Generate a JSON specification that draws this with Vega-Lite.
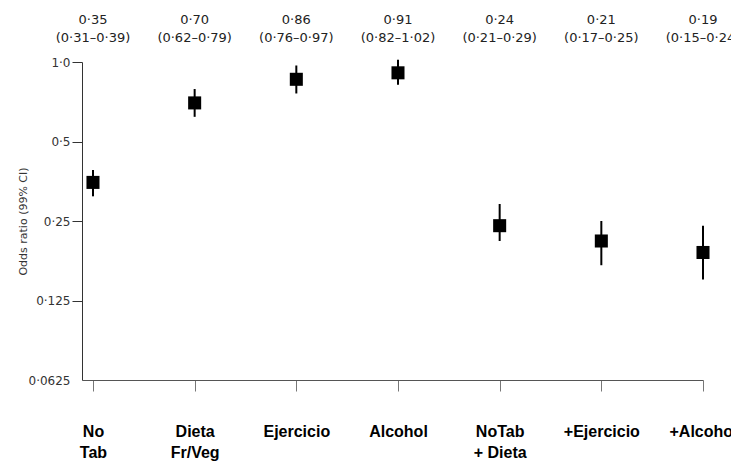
{
  "$schema": "https://vega.github.io/schema/vega-lite/v6.json",
  "width": 621,
  "height": 318,
  "autosize": {"type": "none"},
  "padding": {"left": 82, "top": 62, "right": 28, "bottom": 87},
  "background": "white",
  "config": {"view": {"stroke": null}},
  "data": {
    "values": [
      {"pos": 0, "group": "No Tab", "or": 0.35, "lo": 0.31, "hi": 0.39, "orText": "0·35", "ciText": "(0·31–0·39)"},
      {"pos": 1, "group": "Dieta Fr/Veg", "or": 0.70, "lo": 0.62, "hi": 0.79, "orText": "0·70", "ciText": "(0·62–0·79)"},
      {"pos": 2, "group": "Ejercicio", "or": 0.86, "lo": 0.76, "hi": 0.97, "orText": "0·86", "ciText": "(0·76–0·97)"},
      {"pos": 3, "group": "Alcohol", "or": 0.91, "lo": 0.82, "hi": 1.02, "orText": "0·91", "ciText": "(0·82–1·02)"},
      {"pos": 4, "group": "NoTab + Dieta", "or": 0.24, "lo": 0.21, "hi": 0.29, "orText": "0·24", "ciText": "(0·21–0·29)"},
      {"pos": 5, "group": "+Ejercicio", "or": 0.21, "lo": 0.17, "hi": 0.25, "orText": "0·21", "ciText": "(0·17–0·25)"},
      {"pos": 6, "group": "+Alcohol", "or": 0.19, "lo": 0.15, "hi": 0.24, "orText": "0·19", "ciText": "(0·15–0·24)"}
    ]
  },
  "layer": [
    {
      "mark": {"type": "rule", "strokeWidth": 2, "color": "black"},
      "encoding": {
        "x": {
          "field": "pos", "type": "quantitative", "title": null,
          "scale": {"domain": [-0.108, 6], "nice": false, "zero": false},
          "axis": {
            "values": [0, 1, 2, 3, 4, 5, 6],
            "grid": false,
            "domainColor": "#555",
            "tickColor": "#777",
            "tickSize": 11,
            "labelExpr": "[['No','Tab'],['Dieta','Fr/Veg'],['Ejercicio'],['Alcohol'],['NoTab','+ Dieta'],['+Ejercicio'],['+Alcohol']][datum.value]",
            "labelFont": "Liberation Sans",
            "labelFontWeight": "bold",
            "labelFontSize": 16,
            "labelColor": "black",
            "labelLineHeight": 21,
            "labelPadding": 32,
            "labelBaseline": "top",
            "labelFlush": false,
            "labelOverlap": false,
            "labelBound": false
          }
        },
        "y": {
          "field": "lo", "type": "quantitative", "title": "Odds ratio (99% CI)",
          "scale": {"type": "log", "base": 2, "domain": [0.0625, 1], "nice": false},
          "axis": {
            "values": [0.0625, 0.125, 0.25, 0.5, 1],
            "grid": false,
            "domainColor": "#333",
            "tickColor": "#333",
            "tickSize": 10,
            "tickOpacity": {"condition": {"test": "datum.value < 0.07", "value": 0}, "value": 1},
            "labelPadding": 2,
            "labelFont": "DejaVu Sans",
            "labelFontSize": 12,
            "labelColor": "#333",
            "labelFlush": false,
            "labelOverlap": false,
            "labelExpr": "datum.value == 1 ? '1·0' : replace(toString(datum.value), '.', '·')",
            "titleFont": "DejaVu Sans",
            "titleFontSize": 11,
            "titleFontWeight": "normal",
            "titleColor": "#333",
            "titlePadding": 0
          }
        },
        "y2": {"field": "hi"}
      }
    },
    {
      "mark": {"type": "point", "shape": "square", "filled": true, "size": 170, "color": "black", "opacity": 1},
      "encoding": {
        "x": {"field": "pos", "type": "quantitative", "title": null},
        "y": {"field": "or", "type": "quantitative", "title": "Odds ratio (99% CI)"}
      }
    },
    {
      "mark": {"type": "text", "dy": -38, "font": "DejaVu Sans", "fontSize": 13, "color": "#222", "baseline": "alphabetic", "align": "center"},
      "encoding": {
        "x": {"field": "pos", "type": "quantitative", "title": null},
        "y": {"datum": 1, "type": "quantitative", "title": "Odds ratio (99% CI)"},
        "text": {"field": "orText"}
      }
    },
    {
      "mark": {"type": "text", "dy": -20, "font": "DejaVu Sans", "fontSize": 13, "color": "#222", "baseline": "alphabetic", "align": "center"},
      "encoding": {
        "x": {"field": "pos", "type": "quantitative", "title": null},
        "y": {"datum": 1, "type": "quantitative", "title": "Odds ratio (99% CI)"},
        "text": {"field": "ciText"}
      }
    }
  ]
}
